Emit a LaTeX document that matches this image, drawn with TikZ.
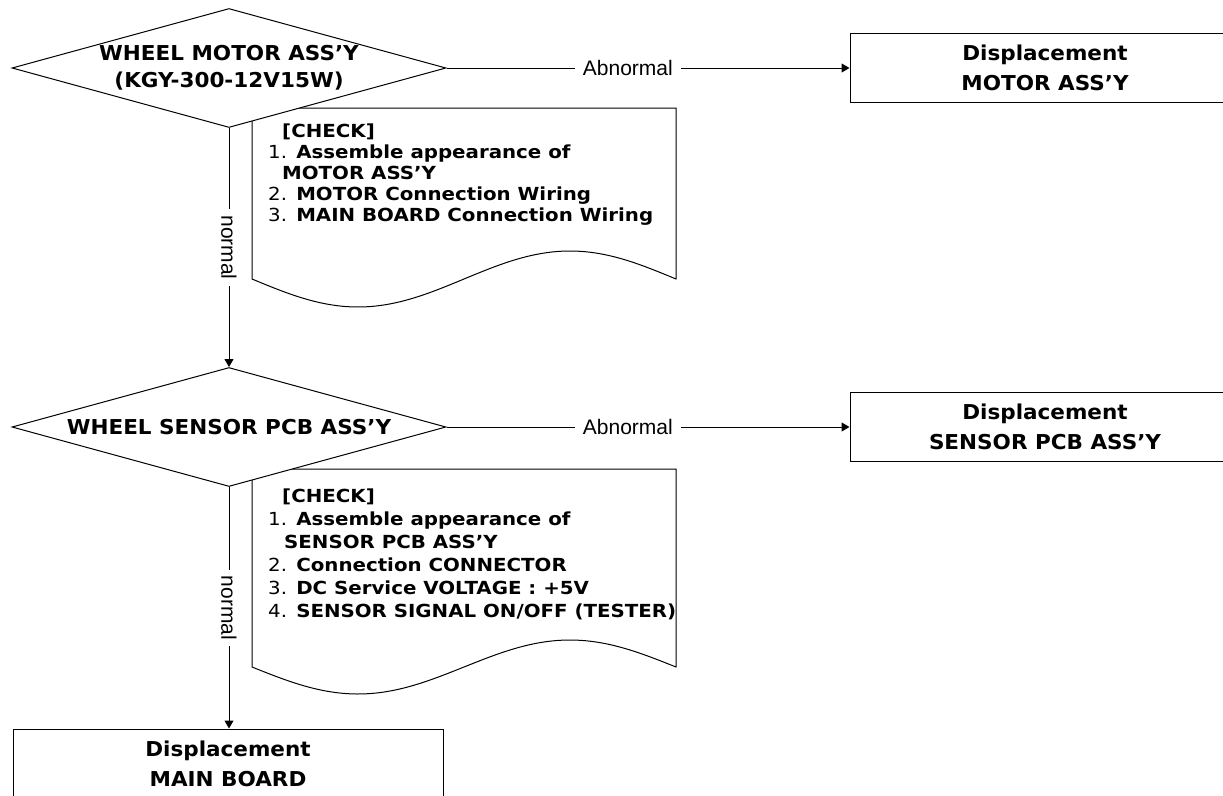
\documentclass[tikz,border=0pt]{standalone}
\usepackage{fontspec}
\usetikzlibrary{shapes.geometric,arrows.meta}
\newfontfamily\headfont{DejaVu Sans}[FakeStretch=1.05]
\newfontfamily\checkfont{DejaVu Sans}[FakeStretch=1.1]
\newfontfamily\labfont{Liberation Sans}
\begin{document}
\begin{tikzpicture}[x=1pt,y=-1pt,
  decision/.style={shape=diamond, draw, fill=white, line width=1pt, inner sep=0pt,
    minimum width=434pt, minimum height=119pt, shape aspect=3.65,
    font=\headfont\bfseries\fontsize{20.5pt}{27pt}\selectfont, align=center},
  outbox/.style={draw, fill=white, line width=1pt, inner sep=0pt, minimum height=69pt,
    font=\headfont\bfseries\fontsize{20.5pt}{30pt}\selectfont, align=center},
  flow/.style={draw, line width=1pt, -{Triangle[length=8pt,width=9pt]}},
  lab/.style={fill=white, font=\labfont\fontsize{21pt}{21pt}\selectfont, inner xsep=8pt, inner ysep=3pt},
  vlab/.style={lab, rotate=-90, inner xsep=6pt},
  chk/.style={anchor=base west, inner sep=0pt, font=\checkfont\bfseries\fontsize{18pt}{18pt}\selectfont},
  docshape/.style={draw, fill=white, line width=1pt}
]
\path[use as bounding box] (0,0) rectangle (1223,795);
\clip (0,0) rectangle (1223,795);

% check documents
\draw[docshape] (676,279) -- (676,108) -- (252,108) -- (252,279)
  -- plot[domain=252:676, samples=90] (\x,{279+28*sin((\x-252)*0.8490566)}) -- cycle;
\draw[docshape] (676,667) -- (676,469) -- (252,469) -- (252,667)
  -- plot[domain=252:676, samples=90] (\x,{667+27*sin((\x-252)*0.8490566)}) -- cycle;

\node[chk] (c1h) at (282,137) {[CHECK]};
\node[chk] (c1a) at (268,158) {{\mdseries 1.} Assemble appearance of};
\node[chk] (c1b) at (282,179) {MOTOR ASS’Y};
\node[chk] (c1c) at (268,200) {{\mdseries 2.} MOTOR Connection Wiring};
\node[chk] (c1d) at (268,221) {{\mdseries 3.} MAIN BOARD Connection Wiring};

\node[chk] (c2h) at (282,502) {[CHECK]};
\node[chk] (c2a) at (268,525) {{\mdseries 1.} Assemble appearance of};
\node[chk] (c2b) at (284,548) {SENSOR PCB ASS’Y};
\node[chk] (c2c) at (268,571) {{\mdseries 2.} Connection CONNECTOR};
\node[chk] (c2d) at (268,594) {{\mdseries 3.} DC Service VOLTAGE : +5V};
\node[chk] (c2e) at (268,617) {{\mdseries 4.} SENSOR SIGNAL ON/OFF (TESTER)};

% decisions
\node[decision] (d1) at (229,68) {WHEEL MOTOR ASS’Y\\(KGY-300-12V15W)};
\node[decision] (d2) at (229,427) {WHEEL SENSOR PCB ASS’Y};

% result boxes
\node[outbox, minimum width=390pt] (b1) at (1045,68) {Displacement\\MOTOR ASS’Y};
\node[outbox, minimum width=390pt] (b2) at (1045,427) {Displacement\\SENSOR PCB ASS’Y};
\node[outbox, minimum width=430pt] (b3) at (228,763.5) {Displacement\\MAIN BOARD};

% connectors
\draw[flow] (d1.east) -- node[lab, pos=0.45] {Abnormal} (b1.west);
\draw[flow] (d2.east) -- node[lab, pos=0.45] {Abnormal} (b2.west);
\draw[flow] (d1.south) -- node[vlab] {normal} (d2.north);
\draw[flow] (d2.south) -- node[vlab] {normal} (b3.north -| d2.south);
\end{tikzpicture}
\end{document}
